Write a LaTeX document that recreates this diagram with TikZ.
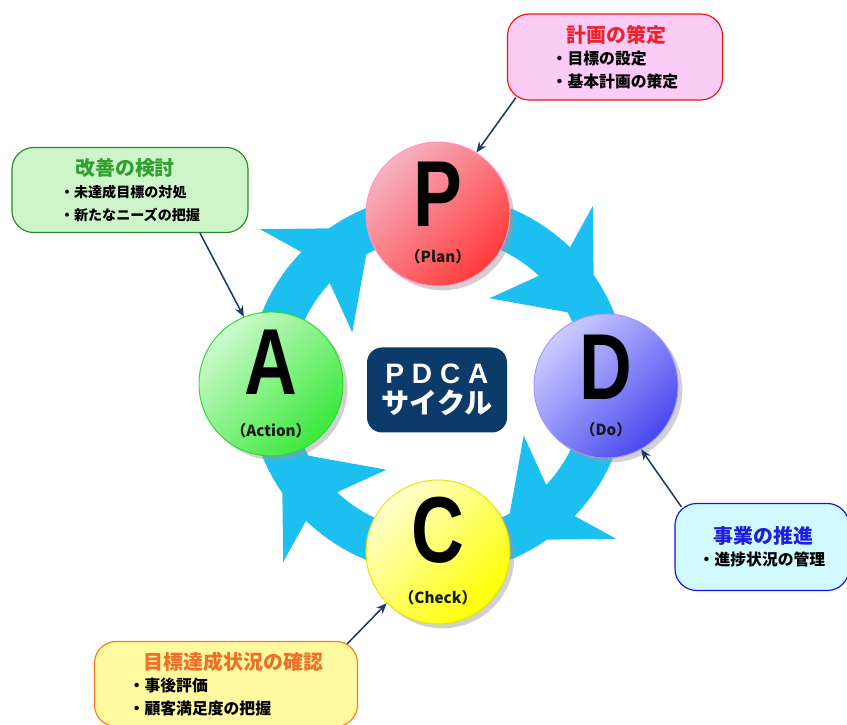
\documentclass[tikz,border=0pt]{standalone}
\usepackage{fontspec}
\setmainfont{Liberation Sans}
\newfontfamily\jp{Noto Sans CJK JP}
\usetikzlibrary{positioning,shadows,arrows.meta}

\definecolor{ringcyan}{RGB}{28,192,240}
\definecolor{navybox}{RGB}{12,58,105}
\definecolor{leadblue}{RGB}{28,56,100}
\definecolor{plight}{RGB}{246,178,192}
\definecolor{pdark}{RGB}{255,58,58}
\definecolor{pline}{RGB}{255,150,200}
\definecolor{alight}{RGB}{204,250,204}
\definecolor{adark}{RGB}{58,232,58}
\definecolor{aline}{RGB}{40,220,40}
\definecolor{dlight}{RGB}{204,204,255}
\definecolor{ddark}{RGB}{72,72,240}
\definecolor{dline}{RGB}{160,150,255}
\definecolor{clight}{RGB}{255,255,205}
\definecolor{cdark}{RGB}{255,255,0}
\definecolor{cline}{RGB}{228,228,0}
\definecolor{planfill}{RGB}{250,204,246}
\definecolor{planline}{RGB}{240,20,20}
\definecolor{plantitle}{RGB}{232,36,48}
\definecolor{actfill}{RGB}{206,245,202}
\definecolor{actline}{RGB}{40,140,40}
\definecolor{acttitle}{RGB}{48,160,48}
\definecolor{dofill}{RGB}{208,250,255}
\definecolor{doline}{RGB}{20,20,230}
\definecolor{dotitle}{RGB}{30,30,220}
\definecolor{chkfill}{RGB}{255,250,160}
\definecolor{chkline}{RGB}{255,120,30}
\definecolor{chktitle}{RGB}{240,110,40}

\newcommand\boxtitle{\fontsize{17}{19}\selectfont}

\tikzset{
  stage/.style={circle, minimum size=43.2mm, inner sep=0pt, line width=0.8pt,
    drop shadow={shadow xshift=1.3mm, shadow yshift=-1.3mm, fill=black!40, opacity=0.45}},
  bigletter/.style={font=\bfseries\fontsize{80}{80}\selectfont, inner sep=0pt},
  phaselabel/.style={font=\jp\bfseries\fontsize{13}{13}\selectfont, text=black!90, inner sep=0pt},
  notebox/.style={rounded corners=6.5mm, line width=1pt, align=left, inner sep=0pt,
    font=\jp\bfseries\fontsize{13.5}{19}\selectfont},
  leader/.style={draw=leadblue, line width=1.3pt, -{Stealth[length=3.2mm,width=2.6mm]}},
  cyclebox/.style={fill=navybox, rounded corners=4.5mm, minimum width=42mm, minimum height=25.5mm,
    text=white, align=center, inner sep=0pt}
}

\begin{document}
\begin{tikzpicture}[x=0.3mm, y=0.3mm]
        \useasboundingbox (0,0) rectangle (847,725);

        \coordinate (ring) at (438,341);

        \foreach \k in {0,...,3}{
          \begin{scope}[shift={(ring)}, rotate=-90*\k]
            \fill[ringcyan] (185:190) arc[start angle=185, end angle=136, radius=190]
              -- (139:236) -- (125:190) arc[start angle=125, end angle=104, radius=190]
              -- (97:168) -- (104:148) arc[start angle=104, end angle=119, radius=148]
              -- (149:100) -- (137:148) arc[start angle=137, end angle=185, radius=148] -- cycle;
          \end{scope}
        }

        \node[stage, top color=plight, bottom color=pdark, shading angle=45, draw=pline] (plan) at ([shift={(0,170)}]ring) {};
        \node[stage, top color=alight, bottom color=adark, shading angle=45, draw=aline] (act) at ([shift={(-167,0)}]ring) {};
        \node[stage, top color=dlight, bottom color=ddark, shading angle=45, draw=dline] (do) at ([shift={(168,-2)}]ring) {};
        \node[stage, top color=clight, bottom color=cdark, shading angle=45, draw=cline] (chk) at ([shift={(0,-168)}]ring) {};

        \node[bigletter] (planLetter) at ([shift={(0,20)}]plan) {\scalebox{0.78}[1]{P}};
        \node[bigletter] (actLetter) at ([shift={(0,22)}]act) {\scalebox{0.78}[1]{A}};
        \node[bigletter] (doLetter) at ([shift={(0,19)}]do) {\scalebox{0.78}[1]{D}};
        \node[bigletter] (chkLetter) at ([shift={(0,22)}]chk) {\scalebox{0.78}[1]{C}};

        \node[phaselabel] (planName) at ([shift={(0,-43)}]plan) {（Plan）};
        \node[phaselabel] (actName) at ([shift={(0,-47)}]act) {（Action）};
        \node[phaselabel] (doName) at ([shift={(0,-44)}]do) {（Do）};
        \node[phaselabel] (chkName) at ([shift={(0,-46)}]chk) {（Check）};

        \node[cyclebox] (cycle) at ([shift={(-1,-6)}]ring)
          {\bfseries\fontsize{24}{24}\selectfont P D C A\\[4pt]{\jp\bfseries\fontsize{24}{24}\selectfont サイクル}};

        \node[notebox, fill=planfill, draw=planline, minimum width=64.5mm, minimum height=25.8mm] (planBox) at (615,668)
          {\textcolor{plantitle}{\boxtitle\hspace*{13pt}計画の策定}\\・目標の設定\\・基本計画の策定};
        \node[notebox, fill=actfill, draw=actline, minimum width=70.8mm, minimum height=25.5mm] (actBox) at (130,535)
          {\textcolor{acttitle}{\boxtitle\hspace*{13pt}改善の検討}\\{\fontsize{12}{18}\selectfont・未達成目標の対処}\\{\fontsize{12}{18}\selectfont・新たなニーズの把握}};
        \node[notebox, fill=dofill, draw=doline, minimum width=52.2mm, minimum height=26.1mm] (doBox) at (762,178)
          {\textcolor{dotitle}{\boxtitle\hspace*{13pt}事業の推進}\\・進捗状況の管理};
        \node[notebox, fill=chkfill, draw=chkline, minimum width=78.9mm, minimum height=25.5mm] (chkBox) at (226,41)
          {\textcolor{chktitle}{\boxtitle\hspace*{13pt}目標達成状況の確認}\\・事後評価\\・顧客満足度の把握};

        \draw[leader] ([shift={(9,3)}]planBox.south west) -- (plan.58);
        \draw[leader] ([shift={(70,0)}]actBox.south) -- (act.112);
        \draw[leader] ([shift={(7,-4)}]doBox.north west) -- (do.-61);
        \draw[leader] ([shift={(-11,-3)}]chkBox.north east) -- (chk.225);
\end{tikzpicture}
\end{document}
